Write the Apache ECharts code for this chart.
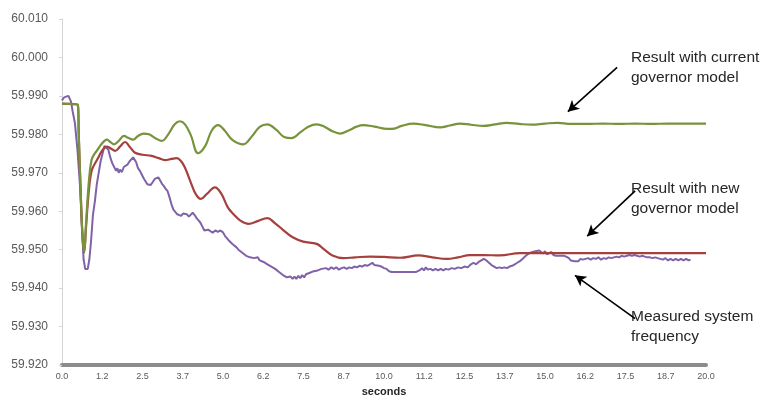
<!DOCTYPE html>
<html>
<head>
<meta charset="utf-8">
<script src="https://cdn.jsdelivr.net/npm/echarts@6/dist/echarts.min.js"></script>
<style>
html,body{margin:0;padding:0;background:#fff;overflow:hidden;}
#chart{width:777px;height:402px;}
</style>
</head>
<body>
<div id="chart"></div>
<script>
// ---- tick labels ----
var xTickLabels = ['0.0','1.2','2.5','3.7','5.0','6.2','7.5','8.7','10.0','11.2','12.5','13.7','15.0','16.2','17.5','18.7','20.0'];
var yTickMin = 59.92, yTickMax = 60.01, yTickStep = 0.01;

// ---- series: Result with current governor model (green) ----
var currentModel = [
[0.00,59.9880],[0.25,59.9879],[0.49,59.9877],[0.52,59.9800],[0.58,59.9650],[0.64,59.9530],[0.69,59.9495],
[0.74,59.9560],[0.80,59.9640],[0.86,59.9700],[0.92,59.9734],[1.00,59.9748],[1.08,59.9757],[1.20,59.9772],
[1.32,59.9783],[1.40,59.9786],[1.50,59.9780],[1.62,59.9774],[1.75,59.9782],[1.93,59.9796],[2.05,59.9791],
[2.21,59.9786],[2.35,59.9795],[2.53,59.9802],[2.70,59.9800],[2.90,59.9790],[3.10,59.9783],[3.30,59.9800],
[3.50,59.9826],[3.66,59.9834],[3.82,59.9826],[4.00,59.9798],[4.23,59.9751],[4.45,59.9770],[4.65,59.9810],
[4.85,59.9824],[5.05,59.9810],[5.30,59.9785],[5.63,59.9774],[5.90,59.9795],[6.15,59.9820],[6.38,59.9826],
[6.65,59.9812],[6.90,59.9793],[7.13,59.9790],[7.40,59.9805],[7.65,59.9820],[7.91,59.9826],[8.15,59.9820],
[8.40,59.9808],[8.63,59.9802],[8.90,59.9810],[9.15,59.9820],[9.36,59.9824],[9.70,59.9820],[10.00,59.9815],
[10.24,59.9814],[10.55,59.9822],[10.91,59.9828],[11.30,59.9824],[11.74,59.9818],[12.05,59.9823],[12.36,59.9828],
[12.70,59.9825],[13.08,59.9822],[13.45,59.9826],[13.81,59.9830],[14.20,59.9827],[14.60,59.9825],[15.00,59.9828],
[15.40,59.9830],[15.80,59.9827],[16.30,59.9827],[16.80,59.9828],[17.30,59.9827],[17.80,59.9828],[18.30,59.9827],
[18.80,59.9828],[19.40,59.9828],[20.00,59.9828]
];

// ---- series: Result with new governor model (red) ----
var newModel = [
[0.00,59.9880],[0.25,59.9879],[0.49,59.9877],[0.52,59.9800],[0.58,59.9650],[0.64,59.9530],[0.69,59.9493],
[0.74,59.9550],[0.80,59.9620],[0.86,59.9675],[0.92,59.9705],[0.97,59.9716],[1.05,59.9728],[1.13,59.9740],
[1.25,59.9758],[1.39,59.9768],[1.50,59.9764],[1.65,59.9757],[1.80,59.9768],[1.96,59.9780],[2.10,59.9768],
[2.27,59.9752],[2.50,59.9747],[2.78,59.9744],[3.00,59.9738],[3.20,59.9733],[3.40,59.9736],[3.56,59.9738],
[3.70,59.9730],[3.82,59.9713],[3.98,59.9679],[4.15,59.9645],[4.31,59.9632],[4.50,59.9645],[4.75,59.9662],
[4.95,59.9645],[5.15,59.9610],[5.32,59.9593],[5.55,59.9575],[5.79,59.9567],[6.10,59.9575],[6.38,59.9582],
[6.60,59.9570],[6.87,59.9551],[7.15,59.9533],[7.49,59.9521],[7.91,59.9515],[8.15,59.9500],[8.40,59.9485],
[8.74,59.9478],[9.10,59.9480],[9.57,59.9482],[10.00,59.9481],[10.50,59.9479],[11.07,59.9485],[11.50,59.9480],
[11.95,59.9476],[12.30,59.9480],[12.67,59.9486],[13.10,59.9486],[13.60,59.9485],[14.22,59.9491],[14.63,59.9491],
[15.20,59.9491],[16.00,59.9491],[17.00,59.9491],[18.00,59.9491],[19.00,59.9491],[20.00,59.9491]
];

// ---- series: Measured system frequency (purple) ----
var measured = [
[0.00,59.9888],[0.05,59.9895],[0.08,59.9890],[0.12,59.9898],[0.17,59.9893],[0.20,59.9900],[0.24,59.9897],
[0.28,59.9885],[0.33,59.9860],[0.40,59.9830],[0.48,59.9760],[0.56,59.9665],[0.62,59.9560],[0.67,59.9475],
[0.72,59.9450],[0.80,59.9450],[0.85,59.9475],[0.90,59.9520],[0.96,59.9590],[1.02,59.9625],[1.08,59.9670],
[1.14,59.9700],[1.20,59.9730],[1.26,59.9750],[1.32,59.9770],[1.38,59.9768],[1.44,59.9760],[1.50,59.9740],
[1.56,59.9725],[1.62,59.9715],[1.68,59.9705],[1.72,59.9712],[1.76,59.9700],[1.80,59.9708],[1.86,59.9702],
[1.92,59.9715],[1.98,59.9712],[2.04,59.9722],[2.10,59.9730],[2.16,59.9735],[2.21,59.9740],[2.26,59.9735],
[2.30,59.9728],[2.36,59.9712],[2.42,59.9705],[2.48,59.9695],[2.54,59.9685],[2.60,59.9680],[2.65,59.9670],
[2.70,59.9674],[2.75,59.9668],[2.82,59.9676],[2.88,59.9684],[2.94,59.9680],[2.99,59.9688],[3.05,59.9680],
[3.10,59.9672],[3.16,59.9666],[3.22,59.9658],[3.28,59.9652],[3.34,59.9636],[3.40,59.9618],[3.46,59.9604],
[3.52,59.9600],[3.58,59.9592],[3.64,59.9594],[3.70,59.9588],[3.76,59.9594],[3.82,59.9590],[3.88,59.9592],
[3.94,59.9586],[4.00,59.9590],[4.06,59.9596],[4.12,59.9590],[4.18,59.9582],[4.24,59.9576],[4.30,59.9570],
[4.36,59.9560],[4.42,59.9550],[4.48,59.9546],[4.54,59.9552],[4.60,59.9548],[4.68,59.9544],[4.76,59.9550],
[4.84,59.9546],[4.92,59.9550],[5.00,59.9545],[5.06,59.9536],[5.12,59.9530],[5.18,59.9524],[5.24,59.9520],
[5.30,59.9514],[5.36,59.9512],[5.42,59.9506],[5.48,59.9500],[5.54,59.9496],[5.60,59.9492],[5.66,59.9488],
[5.72,59.9484],[5.78,59.9486],[5.84,59.9480],[5.90,59.9484],[5.96,59.9478],[6.02,59.9476],[6.08,59.9480],
[6.14,59.9472],[6.20,59.9474],[6.26,59.9468],[6.32,59.9470],[6.38,59.9462],[6.44,59.9464],[6.50,59.9456],
[6.56,59.9458],[6.62,59.9450],[6.68,59.9448],[6.74,59.9442],[6.80,59.9438],[6.86,59.9434],[6.92,59.9430],
[6.98,59.9428],[7.04,59.9424],[7.10,59.9430],[7.16,59.9424],[7.22,59.9430],[7.28,59.9424],[7.34,59.9432],
[7.40,59.9426],[7.46,59.9434],[7.52,59.9428],[7.58,59.9436],[7.64,59.9432],[7.70,59.9440],[7.76,59.9436],
[7.82,59.9444],[7.88,59.9440],[7.94,59.9446],[8.00,59.9442],[8.06,59.9450],[8.12,59.9446],[8.20,59.9452],
[8.28,59.9448],[8.36,59.9454],[8.44,59.9450],[8.52,59.9454],[8.60,59.9448],[8.68,59.9452],[8.76,59.9454],
[8.84,59.9450],[8.92,59.9454],[9.00,59.9452],[9.08,59.9456],[9.16,59.9454],[9.24,59.9458],[9.32,59.9456],
[9.40,59.9460],[9.48,59.9458],[9.56,59.9462],[9.64,59.9466],[9.70,59.9460],[9.76,59.9464],[9.84,59.9458],
[9.92,59.9456],[10.00,59.9452],[10.08,59.9450],[10.16,59.9444],[10.24,59.9442],[10.40,59.9442],[10.60,59.9442],
[10.80,59.9442],[11.00,59.9442],[11.10,59.9446],[11.18,59.9452],[11.24,59.9446],[11.30,59.9454],[11.36,59.9448],
[11.44,59.9450],[11.52,59.9446],[11.60,59.9450],[11.68,59.9446],[11.76,59.9450],[11.84,59.9446],[11.92,59.9450],
[12.00,59.9448],[12.10,59.9452],[12.20,59.9450],[12.30,59.9454],[12.40,59.9452],[12.50,59.9456],[12.60,59.9454],
[12.70,59.9462],[12.78,59.9466],[12.86,59.9462],[12.94,59.9468],[13.02,59.9472],[13.10,59.9476],[13.18,59.9472],
[13.26,59.9466],[13.34,59.9460],[13.42,59.9456],[13.50,59.9452],[13.58,59.9454],[13.66,59.9452],[13.74,59.9454],
[13.82,59.9452],[13.90,59.9456],[13.98,59.9458],[14.06,59.9462],[14.14,59.9466],[14.22,59.9470],[14.30,59.9476],
[14.38,59.9482],[14.46,59.9488],[14.54,59.9492],[14.62,59.9494],[14.70,59.9496],[14.76,59.9500],[14.82,59.9498],
[14.88,59.9494],[14.94,59.9490],[15.00,59.9496],[15.06,59.9488],[15.12,59.9490],[15.20,59.9494],[15.26,59.9486],
[15.34,59.9484],[15.42,59.9484],[15.50,59.9484],[15.58,59.9484],[15.66,59.9482],[15.74,59.9478],[15.80,59.9472],
[15.86,59.9476],[15.92,59.9470],[15.98,59.9474],[16.04,59.9470],[16.10,59.9476],[16.18,59.9474],[16.26,59.9476],
[16.34,59.9478],[16.42,59.9474],[16.50,59.9478],[16.58,59.9476],[16.66,59.9480],[16.74,59.9474],[16.82,59.9478],
[16.90,59.9476],[16.98,59.9480],[17.06,59.9478],[17.14,59.9480],[17.22,59.9482],[17.30,59.9480],[17.38,59.9484],
[17.46,59.9482],[17.54,59.9484],[17.62,59.9486],[17.70,59.9484],[17.78,59.9486],[17.86,59.9484],[17.94,59.9482],
[18.02,59.9484],[18.10,59.9482],[18.18,59.9480],[18.26,59.9480],[18.34,59.9478],[18.42,59.9480],[18.50,59.9478],
[18.58,59.9476],[18.66,59.9474],[18.74,59.9478],[18.82,59.9472],[18.90,59.9476],[18.98,59.9472],[19.06,59.9476],
[19.14,59.9472],[19.22,59.9476],[19.30,59.9472],[19.38,59.9476],[19.46,59.9472],[19.52,59.9474]
];

// ---- annotations (text + arrow in data coordinates) ----
var annotationTexts = ['Result with current\ngovernor model', 'Result with new\ngovernor model', 'Measured system\nfrequency'];
var annotationTextAnchors = [[17.67, 60.0025], [17.67, 59.9685], [17.67, 59.9352]];
var annotationArrows = [
  [[17.24, 59.99744], [15.71, 59.98590]],
  [[17.80, 59.96531], [16.31, 59.95351]],
  [[17.80, 59.93208], [15.93, 59.94333]]
];

var chart = echarts.init(document.getElementById('chart'), null, {renderer: 'canvas'});
var FONT = '"Liberation Sans", Arial, sans-serif';

var option = {
  animation: false,
  backgroundColor: '#ffffff',
  grid: {left: 62, right: 71, top: 19, bottom: 32, containLabel: false},
  xAxis: {
    type: 'value', min: 0, max: 20, interval: 1.25,
    name: 'seconds', nameLocation: 'middle', nameGap: 21,
    nameTextStyle: {fontFamily: FONT, fontSize: 11, fontWeight: 'bold', color: '#262626'},
    axisLine: {show: true, lineStyle: {color: '#8c8c8c', width: 4}},
    axisTick: {show: false},
    splitLine: {show: false},
    axisLabel: {
      fontFamily: FONT, fontSize: 9, color: '#595959', margin: 7,
      formatter: function (v) { return xTickLabels[Math.round(v / 1.25)]; }
    }
  },
  yAxis: {
    type: 'value', min: yTickMin, max: yTickMax, interval: yTickStep,
    axisLine: {show: true, lineStyle: {color: '#d4d4d4', width: 1}},
    axisTick: {show: true, length: 3, lineStyle: {color: '#d4d4d4'}},
    splitLine: {show: false},
    axisLabel: {
      fontFamily: FONT, fontSize: 12, color: '#595959', margin: 14,
      formatter: function (v) { return v.toFixed(3); }
    }
  },
  series: [
    {
      name: 'Result with current governor model', type: 'line', data: currentModel,
      smooth: 0.4, showSymbol: false, z: 3,
      lineStyle: {color: '#77933C', width: 2.2}
    },
    {
      name: 'Result with new governor model', type: 'line', data: newModel,
      smooth: 0.4, showSymbol: false, z: 2,
      lineStyle: {color: '#A5403D', width: 2.2}
    },
    {
      name: 'Measured system frequency', type: 'line', data: measured,
      smooth: false, showSymbol: false, z: 1,
      lineStyle: {color: '#7F62A8', width: 2}
    },
    {
      name: 'annotations', type: 'line', data: [], silent: true,
      markLine: {
        silent: true, symbol: ['none', 'arrow'], symbolSize: [9, 11],
        label: {show: false},
        lineStyle: {color: '#000000', width: 1.6, type: 'solid'},
        emphasis: {disabled: true},
        data: annotationArrows.map(function (a) {
          return [{coord: a[0]}, {coord: a[1]}];
        })
      }
    }
  ]
};
chart.setOption(option);

// annotation texts placed via the axis scales
var graphics = annotationTexts.map(function (t, i) {
  var p = chart.convertToPixel({gridIndex: 0}, annotationTextAnchors[i]);
  return {
    type: 'text', left: p[0], top: p[1],
    style: {text: t, font: '15.5px ' + FONT, fill: '#262626', lineHeight: 20}
  };
});
chart.setOption({graphic: graphics});
</script>
</body>
</html>
